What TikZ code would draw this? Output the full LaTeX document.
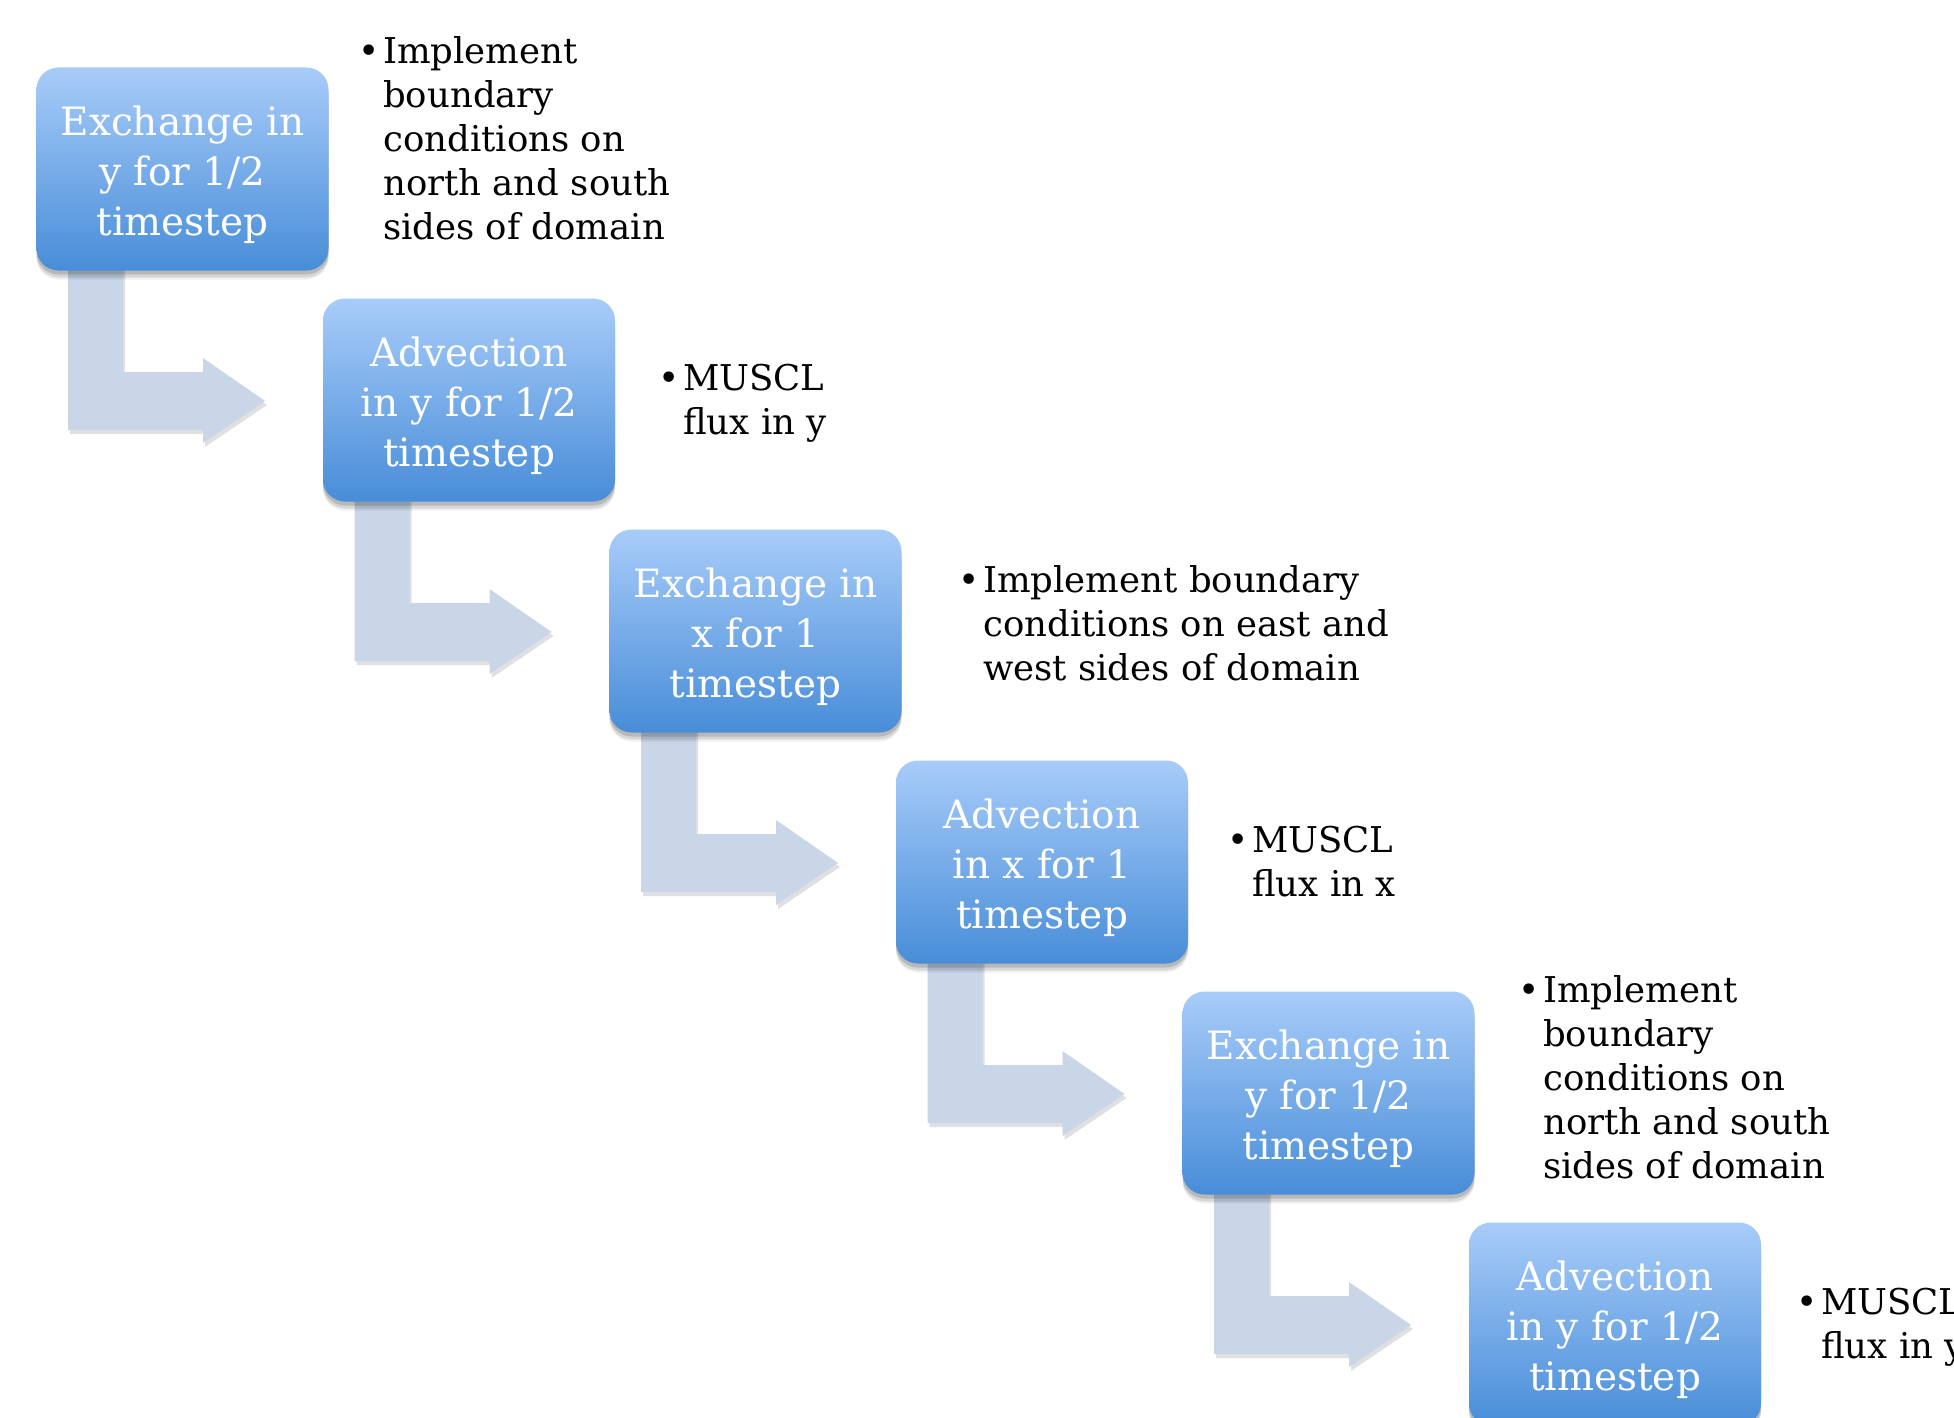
\documentclass[tikz,border=0pt]{standalone}
\usepackage{fontspec}
\setmainfont{DejaVu Serif}
\usetikzlibrary{shadows,backgrounds}
\definecolor{boxtop}{RGB}{168,204,249}
\definecolor{boxbot}{RGB}{72,141,216}
\definecolor{arrowc}{RGB}{200,214,232}
\tikzset{
  stepbox/.style={rounded corners=22pt, minimum width=292pt, minimum height=203pt,
    top color=boxtop, bottom color=boxbot, draw=none, text=white, align=center,
    font=\fontsize{39}{50}\selectfont, inner sep=0pt,
    preaction={general shadow={shadow xshift=0pt, shadow yshift=-9pt, shadow scale=1.0, fill=black, opacity=0.06}},
    preaction={general shadow={shadow xshift=0pt, shadow yshift=-7pt, shadow scale=1.0, fill=black, opacity=0.10}},
    preaction={general shadow={shadow xshift=0pt, shadow yshift=-4pt, shadow scale=1.0, fill=black, opacity=0.14}}},
  note/.style={anchor=north west, align=left, inner sep=0pt,
    font=\fontsize{35.5}{44}\selectfont, text=black},
  bentarrow/.style={fill=arrowc, draw=none},
  arrowshadow/.style={fill=black, opacity=0.12, draw=none},
}
\newcommand{\bul}{\makebox[0pt][r]{\fontsize{36}{36}\selectfont\textbullet\hspace{3pt}}}
\newcommand{\topgap}{\rule{0pt}{42pt}}
\begin{document}
\begin{tikzpicture}[x=1pt,y=-1pt]
\useasboundingbox (0,0) rectangle (1954,1418);
\clip (0,0) rectangle (1954,1418);
\node[stepbox] (b1) at (182.5,169) {\topgap Exchange in\\y for 1/2\\timestep};
\node[stepbox] (b2) at (469,400) {\topgap Advection\\in y for 1/2\\timestep};
\node[stepbox] (b3) at (755.5,631) {\topgap Exchange in\\x for 1\\timestep};
\node[stepbox] (b4) at (1042,862) {\topgap Advection\\in x for 1\\timestep};
\node[stepbox] (b5) at (1328.5,1093) {\topgap Exchange in\\y for 1/2\\timestep};
\node[stepbox] (b6) at (1615,1324) {\topgap Advection\\in y for 1/2\\timestep};

\node[note] (t1) at (383,36) {\bul Implement\\boundary\\conditions on\\north and south\\sides of domain};
\node[note] (t2) at (683,364) {\bul MUSCL\\flux in y};
\node[note] (t3) at (983,565) {\bul Implement boundary\\conditions on east and\\west sides of domain};
\node[note] (t4) at (1252,826) {\bul MUSCL\\flux in x};
\node[note] (t5) at (1543,975) {\bul Implement\\boundary\\conditions on\\north and south\\sides of domain};
\node[note] (t6) at (1821,1288) {\bul MUSCL\\flux in y};

\begin{scope}[on background layer]
  \fill[white] (0,0) rectangle (1954,1418);
  \foreach \a/\b in {b1/b2,b2/b3,b3/b4,b4/b5,b5/b6}{
    \fill[arrowshadow,shift={(\a.center)},xshift=2pt,yshift=-4pt]
      (-114.5,90) -- (-59.5,90) -- (-59.5,203) -- (20.5,203) -- (20.5,189)
      -- (82.5,232) -- (20.5,274) -- (20.5,261) -- (-114.5,261) -- cycle;
    \fill[bentarrow,shift={(\a.center)}]
      (-114.5,90) -- (-59.5,90) -- (-59.5,203) -- (20.5,203) -- (20.5,189)
      -- (82.5,232) -- (20.5,274) -- (20.5,261) -- (-114.5,261) -- cycle;
  }
\end{scope}
\end{tikzpicture}
\end{document}
